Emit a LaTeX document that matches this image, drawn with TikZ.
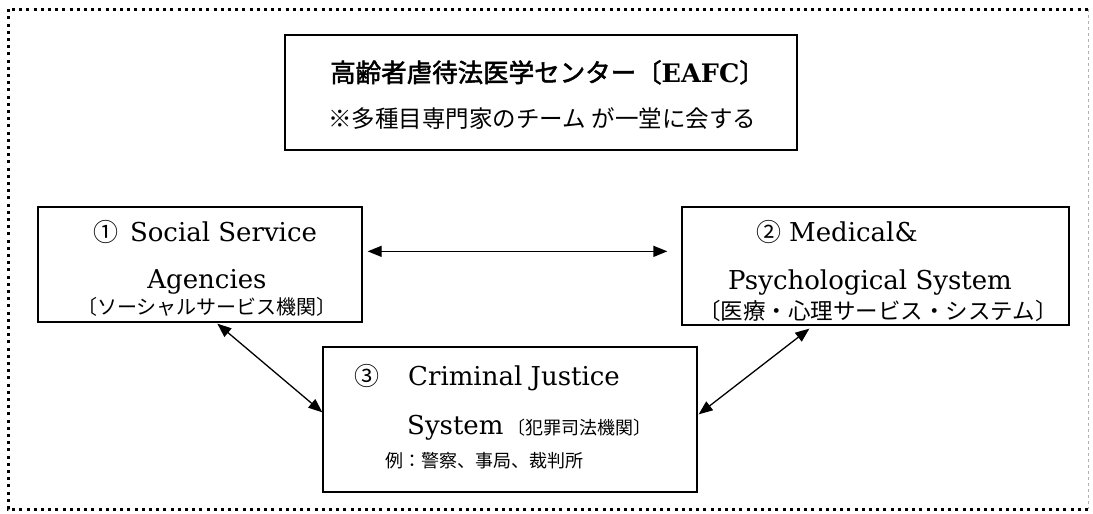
\documentclass[tikz,border=0pt]{standalone}
\usepackage{fontspec}
\setmainfont{DejaVu Serif}
\newfontfamily\cjk{Noto Sans CJK JP}
\newfontfamily\cjkb{Noto Sans CJK JP}[FakeBold=2]
\usetikzlibrary{arrows.meta,calc}
\tikzset{
  box/.style={draw, line width=1.3pt, rectangle, inner sep=0pt},
  txt/.style={inner sep=0pt, anchor=base west},
  ctxt/.style={inner sep=0pt, anchor=base},
  arr/.style={line width=1.3pt, {Triangle[length=14pt,width=11pt]}-{Triangle[length=14pt,width=11pt]}},
  frame/.style={line width=3pt, dash pattern=on 3pt off 4.2pt},
}
\begin{document}
\begin{tikzpicture}[x=1pt,y=-1pt]
\useasboundingbox (0,0) rectangle (1093,514);
% outer frame
\coordinate (fa) at (8,9);
\coordinate (fb) at (1088,9);
\coordinate (fc) at (1088,509);
\coordinate (fd) at (8,509);
\draw[frame] (fc) -- (fd) -- (fa) -- (fb);
\draw[gray!60, line width=0.8pt, dash pattern=on 3pt off 3pt] (fb) -- (fc);
% boxes
\node[box, minimum width=512pt, minimum height=115pt] (title) at (541,92.5) {};
\node[box, minimum width=324pt, minimum height=115pt] (b1) at (200,264.5) {};
\node[box, minimum width=387pt, minimum height=118pt] (b2) at (875.5,266) {};
\node[box, minimum width=374pt, minimum height=145pt] (b3) at (510,419.5) {};
% title texts
\node[txt] (t1) at (330,82) {\cjkb\fontsize{25.5}{25}\selectfont 高齢者虐待法医学センター〔{\rmfamily\bfseries EAFC}〕};
\node[txt] (t2) at (328,127) {\cjk\fontsize{23.5}{23}\selectfont ※多種目専門家のチーム\hspace{6pt}が一堂に会する};
% box1 texts
\node[ctxt] (a1) at (205,241) {{\cjk\fontsize{25}{25}\selectfont ①}\hspace{12pt}\fontsize{26}{26}\selectfont Social Service};
\node[ctxt] (a2) at (207,288) {\fontsize{26}{26}\selectfont Agencies};
\node[ctxt] (a3) at (207,314) {\cjk\fontsize{20}{20}\selectfont 〔ソーシャルサービス機関〕};
% box2 texts
\node[txt] (m1) at (756,241) {{\cjk\fontsize{25}{25}\selectfont ②}\hspace{8pt}\fontsize{26}{26}\selectfont Medical\&};
\node[ctxt] (m2) at (870,289) {\fontsize{26}{26}\selectfont Psychological System};
\node[ctxt] (m3) at (878,319) {\cjk\fontsize{22.5}{22}\selectfont 〔医療・心理サービス・システム〕};
% box3 texts
\node[txt] (c0) at (354,385) {\cjk\fontsize{25}{25}\selectfont ③};
\node[txt] (c1) at (408,385) {\fontsize{26}{26}\selectfont Criminal Justice};
\node[txt] (c2) at (407,434) {\fontsize{26}{26}\selectfont System\hspace{4pt}{\cjk\fontsize{18}{18}\selectfont 〔犯罪司法機関〕}};
\node[txt] (c3) at (385,467) {\cjk\fontsize{18}{18}\selectfont 例：警察、事局、裁判所};
% arrows
\draw[arr] ($(b1.north east)+(5,45)$) -- ($(b2.north west)+(-14,45)$);
\draw[arr] ($(b1.south west)+(180,1)$) -- ($(b3.north west)+(0,66)$);
\draw[arr] ($(b2.south west)+(128,3)$) -- ($(b3.north east)+(1,68)$);
\end{tikzpicture}
\end{document}
